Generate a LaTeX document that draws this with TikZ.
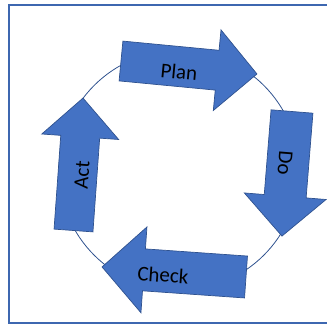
\documentclass[tikz,border=0pt]{standalone}
\usepackage{fontspec}
\setmainfont{Carlito}
\usepackage{tikz}
\usepackage{xcolor}
\usetikzlibrary{positioning}

\definecolor{pdcafill}{HTML}{4472C4}
\definecolor{pdcaline}{HTML}{2F528F}

\begin{document}
\begin{tikzpicture}[x=1pt, y=1pt, thick,
    block/.style = {fill=pdcafill, draw=pdcaline, line width=0.7pt, line join=miter},
    word/.style = {inner sep=0pt, font=\fontsize{21}{25}\selectfont}]
                \useasboundingbox (0,0) rectangle (327,325);
                % Frame
                \draw[pdcafill!90!black, line width=2pt] (327,320.5) -- (8.5,320.5) -- (8.5,2.2) -- (327,2.2);
                
                % Circle
                \coordinate (centre) at (179,154.7);
                \draw[pdcaline, line width=0.8pt] (centre) circle (120);
                
                % Arrows
                % shift = tail, rotate = direction
                \draw[block, shift={(121,264)}, rotate=-5.46] (0,20) -- (96.6,20) -- (96.6,40.5) -- (136.6,0) -- (96.6,-40.5) -- (96.6,-20) -- (0,-20) -- cycle;
                \draw[block, shift={(292,213.5)}, rotate=-94.6] (0,21) -- (85,21) -- (85,41) -- (125,0) -- (85,-41) -- (85,-21) -- (0,-21) -- cycle;
                \draw[block, shift={(246,48)}, rotate=176] (0,21) -- (102.3,21) -- (102.3,43) -- (144.3,0) -- (102.3,-43) -- (102.3,-21) -- (0,-21) -- cycle;
                \draw[block, shift={(73.5,94.5)}, rotate=85.9] (0,19.5) -- (94,19.5) -- (94,38.5) -- (132.8,0) -- (94,-38.5) -- (94,-19.5) -- (0,-19.5) -- cycle;
                
                % Nodes
                \node[word, rotate=-5.46] (plan) at (179,253) {Plan};
                \node[word, rotate=-94.6] (do) at (285,162) {Do};
                \node[word, rotate=-4] (check) at (163,50) {Check};
                \node[word, rotate=85.9] (act) at (82,150) {Act};
            \end{tikzpicture}
\end{document}
